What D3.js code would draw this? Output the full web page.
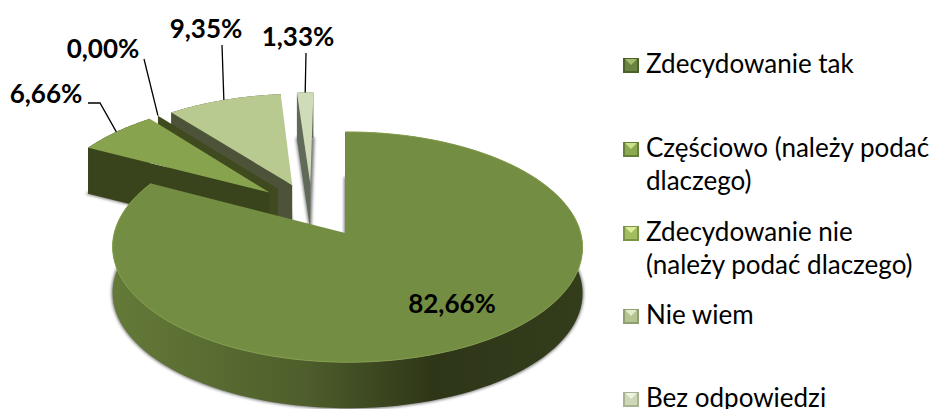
<!DOCTYPE html>
<html>
<head>
<meta charset="utf-8">
<script src="https://cdn.jsdelivr.net/npm/d3@7"></script>
<style>
  html, body { margin: 0; padding: 0; background: #fff; overflow: hidden; }
  text { font-family: Lato, "Open Sans", sans-serif; fill: #000; }
</style>
</head>
<body>
<div id="wykres"></div>
<script>
// dane
const kategorie = ["Zdecydowanie tak", "Częściowo (należy podać dlaczego)", "Zdecydowanie nie (należy podać dlaczego)", "Nie wiem", "Bez odpowiedzi"];
const wartosci = [82.66, 6.66, 0.00, 9.35, 1.33];
const etykiety = ["82,66%", "6,66%", "0,00%", "9,35%", "1,33%"];

// kolory
const kolorGora = ["#738d42", "#87a34d", "#5d7330", "#b9ca91", "#d0dcb9"];
const kolorSciana = ["#4d5d2b", "#39431c", "#3f4b1e", "#4d5339", "#5f6a58"];
const probkaKolor = [
  ["#a3bc6c", "#6a8340", "#4d5f2a"],
  ["#cbe08a", "#8ca850", "#66803a"],
  ["#dcec98", "#a3bc60", "#7c9448"],
  ["#e2ebcb", "#b5c592", "#8f9f72"],
  ["#eef3e2", "#cdd8b8", "#a7b394"]
];

const width = 930, height = 409;
const wybuch = 0.25, glebokosc = 46, przesuniecie = -4;

// rzut perspektywiczny plaszczyzny kola na ekran
const X0 = 345, U0 = 0.129, Y0 = 209.4, R = 227, S = 107.6, k = 0.1186, m = 0.01;
function rzut(u, v) {
  const w = 1 - k * v - m * u;
  return [X0 + R * (u - U0) / w, Y0 + S * v / w];
}

const svg = d3.select("#wykres").append("svg")
  .attr("width", width)
  .attr("height", height);

const defs = svg.append("defs");
defs.append("filter").attr("id", "cien")
  .attr("x", "-10%").attr("y", "-10%").attr("width", "120%").attr("height", "120%")
  .append("feGaussianBlur").attr("stdDeviation", 1.5);

const gradient = defs.append("linearGradient").attr("id", "bok")
  .attr("gradientUnits", "userSpaceOnUse")
  .attr("x1", 112).attr("x2", 583).attr("y1", 0).attr("y2", 0);
[[0, "#647a38"], [0.4, "#4f5f2c"], [0.68, "#2e3618"], [1, "#333d1b"]].forEach(d =>
  gradient.append("stop").attr("offset", d[0]).attr("stop-color", d[1]));

const pie = d3.pie().sort(null).value(d => d)(wartosci);
const linia = d3.line();

// punkt na plaszczyznie wycinka: kat, promien
function punkt(d, kat, r) {
  const srodek = (d.startAngle + d.endAngle) / 2;
  const u = wybuch * Math.sin(srodek) + r * Math.sin(kat);
  const v = -wybuch * Math.cos(srodek) - r * Math.cos(kat);
  const p = rzut(u, v);
  // male wycinki leza troche bardziej w lewo
  return d.index === 0 ? p : [p[0] + przesuniecie, p[1]];
}
const luk = d => d3.range(0, 121).map(i => punkt(d, d.startAngle + (d.endAngle - d.startAngle) * i / 120, 1));
const dol = p => [p[0], p[1] + glebokosc];

const gora = d => [punkt(d, 0, 0)].concat(luk(d));
const sciana = d => luk(d).concat(luk(d).reverse().map(dol));
const ciecie = d => {
  const a = punkt(d, 0, 0), b = punkt(d, d.startAngle, 1);
  return [a, b, dol(b), dol(a)];
};

// od tylu do przodu
const kolejnosc = [4, 3, 2, 1, 0].map(i => pie[i]);

svg.append("g").attr("filter", "url(#cien)")
  .selectAll("path").data(kolejnosc).join("path")
  .attr("d", d => linia(gora(d).map(dol)) + "Z")
  .attr("fill", "#777")
  .attr("stroke", "#777")
  .attr("stroke-width", 2);

const wycinki = svg.append("g").selectAll("g").data(kolejnosc).join("g");

wycinki.append("path")
  .attr("d", d => linia(sciana(d)) + "Z")
  .attr("fill", d => d.index === 0 ? "url(#bok)" : kolorSciana[d.index]);

wycinki.filter(d => d.index !== 0).append("path")
  .attr("d", d => linia(ciecie(d)) + "Z")
  .attr("fill", d => kolorSciana[d.index]);

wycinki.filter(d => d.index !== 2).append("path")
  .attr("d", d => linia(gora(d)) + "Z")
  .attr("fill", d => kolorGora[d.index]);

// jasna krawedz na przodzie
svg.append("path")
  .attr("d", linia(luk(pie[0])))
  .attr("fill", "none")
  .attr("stroke", "#86a04f")
  .attr("stroke-width", 1);

// linie odniesienia
const polozenie = [
  { x: 452, y: 313 },
  { x: 46, y: 103 },
  { x: 103, y: 58 },
  { x: 206, y: 38 },
  { x: 298, y: 46 }
];
const odniesienie = [null, [[88, 103], [100, 103]], [[144, 59]], [[222, 45]], [[306, 53]]];

svg.append("g").selectAll("path")
  .data(pie.filter(d => odniesienie[d.index]))
  .join("path")
  .attr("d", d => {
    const s = (d.startAngle + d.endAngle) / 2;
    const koniec = punkt(d, s, 1);
    return linia(odniesienie[d.index].concat([koniec]));
  })
  .attr("fill", "none")
  .attr("stroke", "#000")
  .attr("stroke-width", 1.3);

svg.append("g").selectAll("text").data(etykiety).join("text")
  .attr("x", (d, i) => polozenie[i].x)
  .attr("y", (d, i) => polozenie[i].y)
  .attr("text-anchor", "middle")
  .attr("font-weight", 700)
  .attr("font-size", 26)
  .text(d => d);

// legenda
const wierszeLegendy = [["Zdecydowanie tak"], ["Częściowo (należy podać", "dlaczego)"], ["Zdecydowanie nie", "(należy podać dlaczego)"], ["Nie wiem"], ["Bez odpowiedzi"]];
const legendaY = [73, 157, 241, 324, 407];

const legenda = svg.append("g").selectAll("g").data(kategorie).join("g")
  .attr("transform", (d, i) => `translate(623,${legendaY[i] - 15})`);

legenda.append("rect")
  .attr("width", 16).attr("height", 15)
  .attr("fill", (d, i) => probkaKolor[i][2]);
legenda.append("path")
  .attr("d", "M2,2H14V13H2Z")
  .attr("fill", (d, i) => probkaKolor[i][1]);
legenda.append("path")
  .attr("d", "M2,1H14L8,7Z")
  .attr("fill", (d, i) => probkaKolor[i][0]);

legenda.each(function (d, i) {
  d3.select(this).selectAll("text").data(wierszeLegendy[i]).join("text")
    .attr("x", 23)
    .attr("y", (t, j) => 15 + j * 33)
    .attr("font-size", 26)
    .text(t => t);
});
</script>
</body>
</html>
